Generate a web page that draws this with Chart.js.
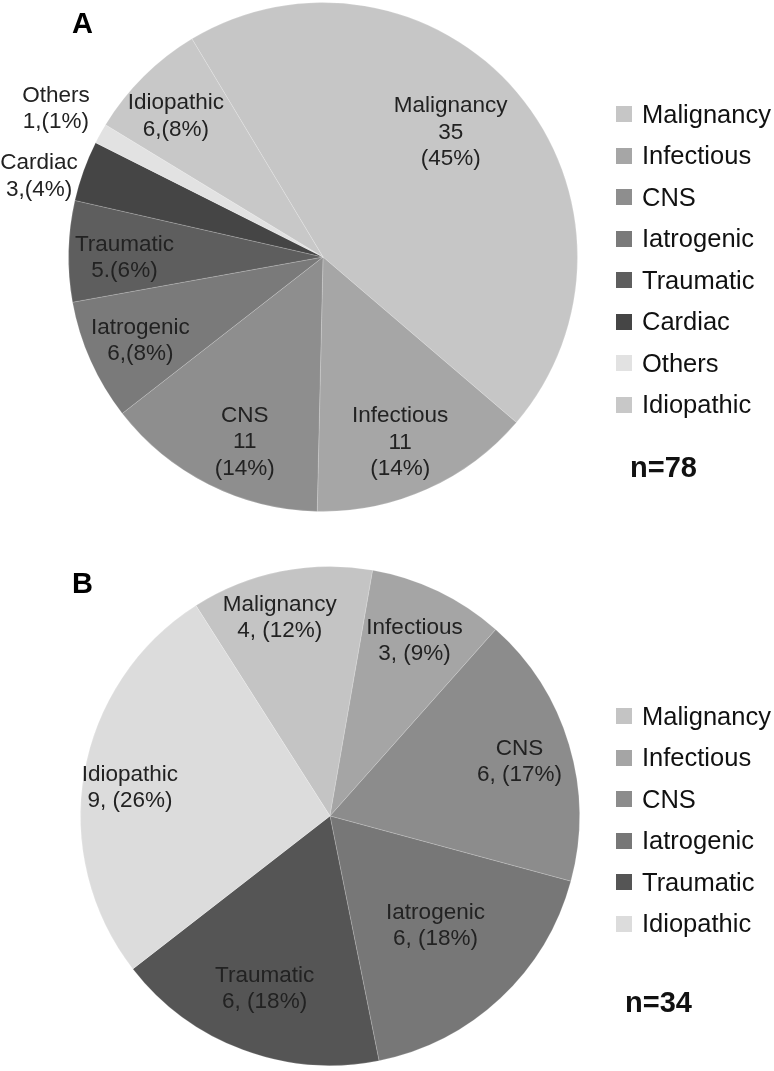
<!DOCTYPE html>
<html>
<head>
<meta charset="utf-8">
<script src="https://cdn.jsdelivr.net/npm/chart.js@4"></script>
<style>
    body { margin: 0; background: #fff; }
    #pagina { position: relative; width: 774px; height: 1071px; font-family: "Liberation Sans", Arial, sans-serif; }
    canvas { position: absolute; left: 0; }
    .letra { position: absolute; font-weight: bold; font-size: 29px; line-height: 1; color: #000; }
    .n { position: absolute; font-weight: bold; font-size: 29px; line-height: 1; color: #111; }
    .legenda-item { position: absolute; left: 616px; height: 30px; display: flex; align-items: center; font-size: 25.5px; color: #111; white-space: nowrap; }
    .legenda-item span.quadrado { width: 16px; height: 16px; margin-right: 10px; display: inline-block; }
</style>
</head>
<body>
<div id="pagina">
    <canvas id="graficoA" width="774" height="540" style="top:0"></canvas>
    <canvas id="graficoB" width="774" height="531" style="top:540px"></canvas>
    <div class="letra" style="left:72px;top:9px">A</div>
    <div class="letra" style="left:72px;top:569px">B</div>
    <div class="n" style="left:630px;top:453px">n=78</div>
    <div class="n" style="left:625px;top:988px">n=34</div>
    <div id="legendaA"></div>
    <div id="legendaB"></div>
</div>
<script>
// painel A
const categoriasA = ["Malignancy", "Infectious", "CNS", "Iatrogenic", "Traumatic", "Cardiac", "Others", "Idiopathic"];
const casosA = [35, 11, 11, 6, 5, 3, 1, 6];
const textosA = [["Malignancy", "35", "(45%)"], ["Infectious", "11", "(14%)"], ["CNS", "11", "(14%)"],
    ["Iatrogenic", "6,(8%)"], ["Traumatic", "5.(6%)"], ["Cardiac", "3,(4%)"], ["Others", "1,(1%)"], ["Idiopathic", "6,(8%)"]];
const coresA = ["#c6c6c6", "#a6a6a6", "#8e8e8e", "#7a7a7a", "#5e5e5e", "#454545", "#e2e2e2", "#c8c8c8"];

// painel B
const categoriasB = ["Malignancy", "Infectious", "CNS", "Iatrogenic", "Traumatic", "Idiopathic"];
const casosB = [4, 3, 6, 6, 6, 9];
const textosB = [["Malignancy", "4, (12%)"], ["Infectious", "3, (9%)"], ["CNS", "6, (17%)"],
    ["Iatrogenic", "6, (18%)"], ["Traumatic", "6, (18%)"], ["Idiopathic", "9, (26%)"]];
const coresB = ["#c4c4c4", "#a5a5a5", "#8c8c8c", "#777777", "#555555", "#dcdcdc"];

// onde fica cada rotulo: fracao do raio e desvio (graus) do meio da fatia
const posicoesA = [{ f: 0.70, d: -4 }, { f: 0.79, d: 1.5 }, { f: 0.79, d: -3.8 }, { f: 0.79, d: -0.6 },
    { f: 0.78, d: -1.6 }, { f: 1.16, d: -3.9 }, { f: 1.20, d: 0 }, { f: 0.80, d: -1.4 }];
const posicoesB = [{ f: 0.82, d: -2.9 }, { f: 0.78, d: 0 }, { f: 0.79, d: 0.7 }, { f: 0.61, d: -0.8 },
    { f: 0.74, d: 0.3 }, { f: 0.81, d: -1.8 }];

const rotulosPlugin = {
    id: "rotulos",
    afterDatasetsDraw(chart, args, opts) {
        const ctx = chart.ctx;
        const arcos = chart.getDatasetMeta(0).data;
        ctx.save();
        ctx.font = '22.5px "Liberation Sans", Arial, sans-serif';
        ctx.fillStyle = "#222";
        ctx.textAlign = "center";
        ctx.textBaseline = "middle";
        arcos.forEach((arco, i) => {
            const p = arco.getProps(["x", "y", "startAngle", "endAngle", "outerRadius"], true);
            const pos = opts.posicoes[i];
            const ang = (p.startAngle + p.endAngle) / 2 + pos.d * Math.PI / 180;
            const cx = p.x + Math.cos(ang) * p.outerRadius * pos.f;
            const cy = p.y + Math.sin(ang) * p.outerRadius * pos.f;
            const linhas = opts.linhas[i];
            linhas.forEach((linha, k) => {
                ctx.fillText(linha, cx, cy + (k - (linhas.length - 1) / 2) * 26.5);
            });
        });
        ctx.restore();
    }
};

function criarGrafico(id, categorias, casos, cores, textos, posicoes, rotacao, padding) {
    return new Chart(document.querySelector(id), {
        type: "pie",
        data: {
            labels: categorias,
            datasets: [{
                data: casos,
                backgroundColor: cores,
                borderColor: "rgba(255,255,255,0.18)",
                borderWidth: 1
            }]
        },
        options: {
            responsive: false,
            animation: false,
            rotation: rotacao,
            layout: { padding: padding },
            plugins: {
                legend: { display: false },
                tooltip: { enabled: false },
                rotulos: { linhas: textos, posicoes: posicoes }
            }
        },
        plugins: [rotulosPlugin]
    });
}

function criarLegenda(id, categorias, cores, topo) {
    const alvo = document.querySelector(id);
    categorias.forEach((nome, i) => {
        const item = document.createElement("div");
        item.className = "legenda-item";
        item.style.top = (topo + i * 41.5 - 15) + "px";
        item.innerHTML = `<span class="quadrado" style="background:${cores[i]}"></span>${nome}`;
        alvo.appendChild(item);
    });
}

criarGrafico("#graficoA", categoriasA, casosA, coresA, textosA, posicoesA, -31,
    { left: 68, top: 2, right: 196, bottom: 28 });
criarGrafico("#graficoB", categoriasB, casosB, coresB, textosB, posicoesB, -32.5,
    { left: 80, top: 26, right: 194, bottom: 5 });

criarLegenda("#legendaA", categoriasA, coresA, 114);
criarLegenda("#legendaB", categoriasB, coresB, 716);
</script>
</body>
</html>
